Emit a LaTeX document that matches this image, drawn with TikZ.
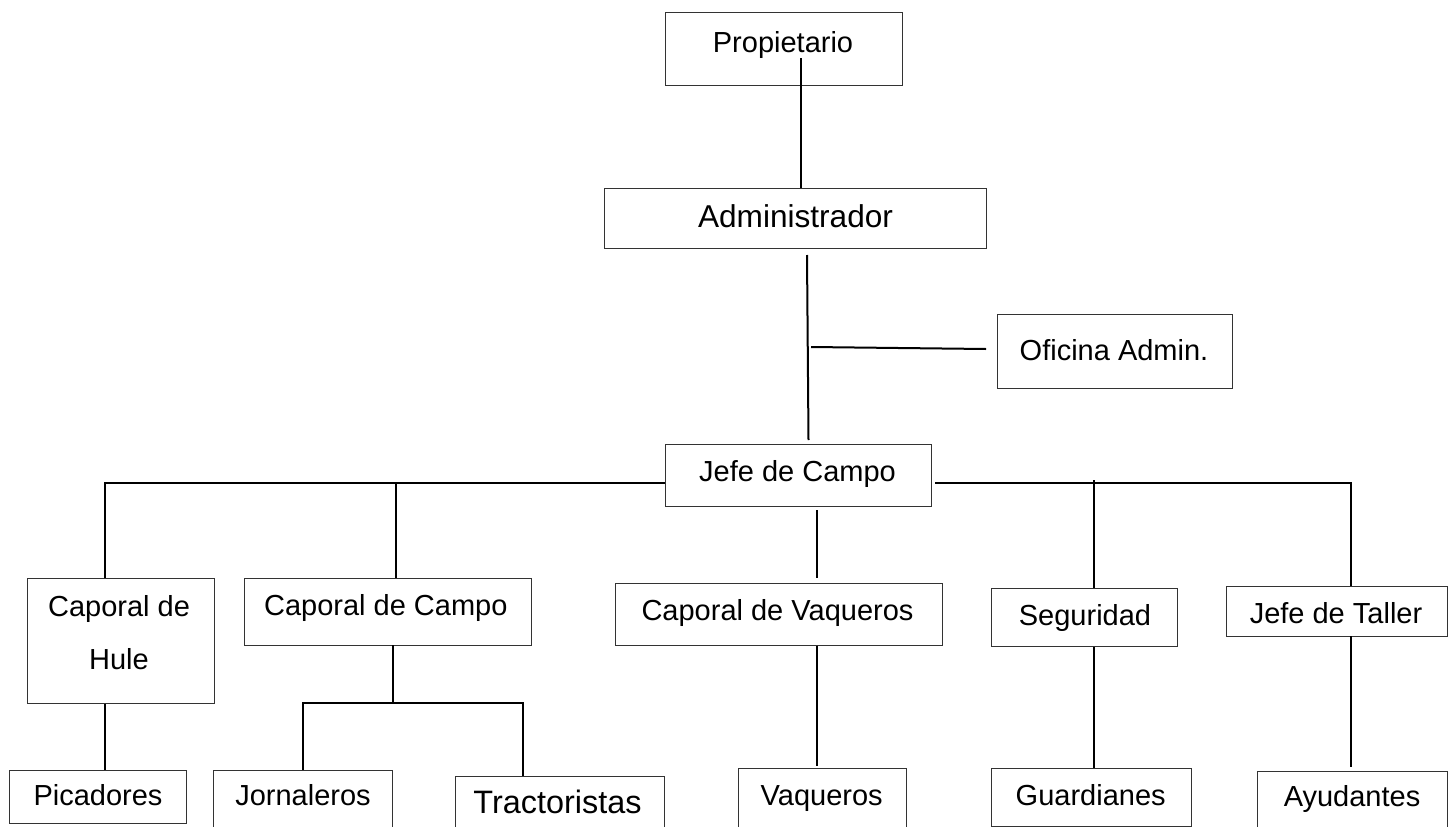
\documentclass[tikz,border=0pt]{standalone}
\usepackage{fontspec}
\setmainfont{Liberation Sans}
\usetikzlibrary{fit}
\tikzset{
  box/.style={draw=black!80, line width=1pt, inner sep=0pt, rectangle},
  lbl/.style={anchor=base, inner sep=0pt, font=\fontsize{29}{35}\selectfont},
  conn/.style={draw=black, line width=2pt},
}
\begin{document}
\begin{tikzpicture}[x=1pt,y=-1pt]
\clip (0,0) rectangle (1454,827);
\fill[white] (0,0) rectangle (1454,827);

% boxes
\node[box, fit={(665,12) (902,85)}] (prop) {};
\node[box, fit={(604,188) (986,248)}] (admin) {};
\node[box, fit={(997,314) (1232,388)}] (ofi) {};
\node[box, fit={(665,444) (931,506)}] (jefe) {};
\node[box, fit={(27,578) (214,703)}] (hule) {};
\node[box, fit={(244,578) (531,645)}] (ccampo) {};
\node[box, fit={(615,583) (942,645)}] (cvaq) {};
\node[box, fit={(991,588) (1177,646)}] (seg) {};
\node[box, fit={(1226,586) (1447,636)}] (taller) {};
\node[box, fit={(9,770) (186,823)}] (pic) {};
\node[box, fit={(213,770) (392,840)}] (jor) {};
\node[box, fit={(455,776) (664,840)}] (trac) {};
\node[box, fit={(738,768) (906,840)}] (vaq) {};
\node[box, fit={(991,768) (1191,826)}] (guard) {};
\node[box, fit={(1257,771) (1447,840)}] (ayud) {};

% texts
\node[lbl] (tprop) at (783,52) {Propietario};
\node[lbl, font=\fontsize{31.6}{38}\selectfont] (tadmin) at (795.5,227) {Administrador};
\node[lbl] (tofi) at (1114,360) {Oficina Admin.};
\node[lbl] (tjefe) at (797.5,481) {Jefe de Campo};
\node[lbl] (thule1) at (119,616) {Caporal de};
\node[lbl] (thule2) at (119,669.3) {Hule};
\node[lbl] (tccampo) at (385.8,615) {Caporal de Campo};
\node[lbl] (tcvaq) at (777.5,620) {Caporal de Vaqueros};
\node[lbl] (tseg) at (1085,625) {Seguridad};
\node[lbl] (ttaller) at (1336,623.3) {Jefe de Taller};
\node[lbl] (tpic) at (98,805) {Picadores};
\node[lbl] (tjor) at (303,805) {Jornaleros};
\node[lbl, font=\fontsize{32.4}{39}\selectfont] (ttrac) at (557.5,813.3) {Tractoristas};
\node[lbl] (tvaq) at (821.7,805) {Vaqueros};
\node[lbl] (tguard) at (1090.7,805) {Guardianes};
\node[lbl] (tayud) at (1352,806.7) {Ayudantes};

% connectors
\coordinate (p1) at (801,58);
\draw[conn] (p1) -- (p1 |- admin.north);

\coordinate (a1) at (807,255);
\coordinate (a2) at (808.5,440);
\draw[conn] (a1) -- (a2);

\coordinate (o1) at (811,347);
\coordinate (o2) at (986,349);
\draw[conn] (o1) -- (o2);

\coordinate (hl) at (105,483);
\coordinate (hc) at (396,483);
\draw[conn] (hl |- hule.north) -- (hl) -- (hl -| jefe.west);
\draw[conn] (hc) -- (hc |- ccampo.north);

\coordinate (hr0) at (935,483);
\coordinate (hr) at (1351,483);
\coordinate (hs) at (1094,480);
\draw[conn] (hr0) -- (hr) -- (hr |- taller.north);
\draw[conn] (hs) -- (hs |- seg.north);

\coordinate (j1) at (817,510);
\coordinate (j2) at (817,578);
\draw[conn] (j1) -- (j2);

\draw[conn] (cvaq.south -| j1) -- (817,766);
\coordinate (g1) at (1094,647);
\draw[conn] (g1) -- (g1 |- guard.north);
\coordinate (y1) at (1351,636);
\draw[conn] (y1) -- (1351,767);

\draw[conn] (hule.south -| hl) -- (pic.north -| hl);

\coordinate (c1) at (393.3,645);
\coordinate (c2) at (393.3,702.7);
\coordinate (cl) at (303.3,702.7);
\coordinate (cr) at (522.7,702.7);
\draw[conn] (c1) -- (c2);
\draw[conn] (cl |- jor.north) -- (cl) -- (cr) -- (cr |- trac.north);
\end{tikzpicture}
\end{document}
